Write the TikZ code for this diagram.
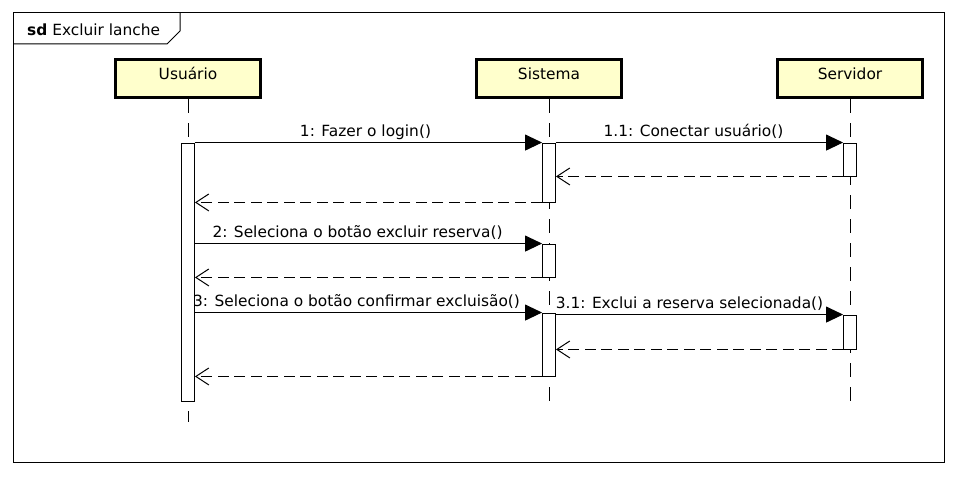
\documentclass[tikz,border=0pt]{standalone}
\usepackage{fontspec}
\setmainfont{DejaVu Sans}
\usepackage{tikz}
\usetikzlibrary{arrows.meta}
\definecolor{creme}{RGB}{255,255,204}

\begin{document}
\begin{tikzpicture}[x=1pt,y=-1pt,
  font=\fontsize{15.4}{18}\selectfont,
  cabeca/.style={draw, line width=3pt, fill=creme, minimum width=145pt, minimum height=38pt, text height=11pt, text depth=8pt, inner sep=0pt},
  ativ/.style={draw, fill=white, minimum width=13pt, inner sep=0pt, line width=0.9pt},
  vida/.style={line width=1pt, dash pattern=on 14pt off 10pt},
  msg/.style={line width=1pt, -{Triangle[length=17pt,width=16pt]}},
  ret/.style={line width=1pt, dash pattern=on 11pt off 5.5pt, -{Straight Barb[length=13pt,width=17pt]}},
  rot/.style={anchor=base, yshift=6pt, inner sep=0pt}]
\useasboundingbox (0,0) rectangle (957,476);
\draw [line width=1pt] (13,13) rectangle (944,462);
\draw [line width=1pt] (13,44) -- (167,44) -- (180,31) -- (180,13);
\node [anchor=base west, inner sep=0pt] (titulo) at (27,36) {\textbf{sd} Excluir lanche};

\node [cabeca] (usuario) at (188,78.5) {Usuário};
\node [cabeca] (sistema) at (549,78.5) {Sistema};
\node [cabeca] (servidor) at (850,78.5) {Servidor};

\coordinate (fimU) at (188,422);
\coordinate (fimS) at (549,401);
\coordinate (fimV) at (850,401);
\draw [vida] (usuario.south) -- (fimU);
\draw [vida] (sistema.south) -- (fimS);
\draw [vida] (servidor.south) -- (fimV);

\node [ativ, minimum height=258pt] (atU) at (188,272) {};
\node [ativ, minimum height=59pt] (atS1) at (549,172.5) {};
\node [ativ, minimum height=33pt] (atV1) at (850,159.5) {};
\node [ativ, minimum height=33pt] (atS2) at (549,260.5) {};
\node [ativ, minimum height=63pt] (atS3) at (549,344.5) {};
\node [ativ, minimum height=34pt] (atV2) at (850,332) {};

\draw [msg] (atU.north east) -- node [rot, xshift=-3pt] {1: Fazer o login()} (atS1.north west);
\draw [msg] (atS1.north east) -- node [rot, xshift=-6pt] {1.1: Conectar usuário()} (atV1.north west);
\draw [ret] (atV1.south west) -- (atV1.south west -| atS1.east);
\draw [ret] (atS1.south west) -- (atS1.south west -| atU.east);

\draw [msg] (atU.east |- atS2.north) -- node [rot, xshift=-11pt] {2: Seleciona o botão excluir reserva()} (atS2.north west);
\draw [ret] (atS2.south west) -- (atS2.south west -| atU.east);

\draw [msg] (atU.east |- atS3.north) -- node [rot, xshift=-12pt] {3: Seleciona o botão confirmar excluisão()} (atS3.north west);
\draw [msg] (atS3.east |- atV2.north) -- node [rot, xshift=-10pt] {3.1: Exclui a reserva selecionada()} (atV2.north west);
\draw [ret] (atV2.south west) -- (atV2.south west -| atS3.east);
\draw [ret] (atS3.south west) -- (atS3.south west -| atU.east);

\end{tikzpicture}
\end{document}
